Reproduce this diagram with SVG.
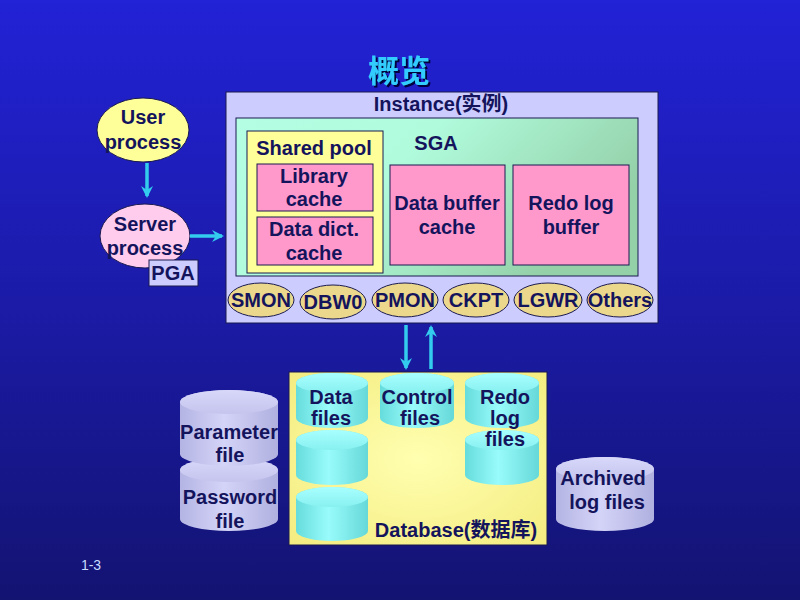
<svg xmlns="http://www.w3.org/2000/svg" width="800" height="600" viewBox="0 0 800 600">
<defs>
<linearGradient id="bg" x1="0" y1="0" x2="0" y2="1">
<stop offset="0" stop-color="#2222d6"/>
<stop offset="0.5" stop-color="#1b1ba8"/>
<stop offset="1" stop-color="#131372"/>
</linearGradient>
<linearGradient id="sga" x1="0" y1="0" x2="1" y2="0.4">
<stop offset="0" stop-color="#b4ffe4"/>
<stop offset="0.45" stop-color="#b0fbdc"/>
<stop offset="1" stop-color="#94d0a8"/>
</linearGradient>
<radialGradient id="db" cx="0.5" cy="0.5" r="0.7">
<stop offset="0" stop-color="#ffffb0"/>
<stop offset="1" stop-color="#f4ec80"/>
</radialGradient>
<linearGradient id="lav" x1="0" y1="0" x2="1" y2="0">
<stop offset="0" stop-color="#b4b4e4"/>
<stop offset="0.45" stop-color="#d4d4f8"/>
<stop offset="1" stop-color="#b0b0e0"/>
</linearGradient>
<linearGradient id="lavTop" x1="0" y1="0" x2="0" y2="1">
<stop offset="0" stop-color="#d8d8fa"/>
<stop offset="1" stop-color="#c4c4ee"/>
</linearGradient>
<linearGradient id="cyan" x1="0" y1="0" x2="1" y2="0">
<stop offset="0" stop-color="#66dcdc"/>
<stop offset="0.45" stop-color="#99fbfb"/>
<stop offset="1" stop-color="#66d8d8"/>
</linearGradient>
<linearGradient id="cyanTop" x1="0" y1="0" x2="0" y2="1">
<stop offset="0" stop-color="#a8ffff"/>
<stop offset="1" stop-color="#88f0f0"/>
</linearGradient>
<filter id="shadow" x="-20%" y="-20%" width="140%" height="140%">
<feDropShadow dx="2" dy="2" stdDeviation="0.5" flood-color="#000040" flood-opacity="1"/>
</filter>
<marker id="ah" viewBox="0 0 12 12" refX="10" refY="6" markerWidth="12" markerHeight="12" markerUnits="userSpaceOnUse" orient="auto">
<path d="M0,0 L12,6 L0,12 L4,6 Z" fill="#33ccee"/>
</marker>
</defs>
<style>
text{font-family:"Liberation Sans",Arial,"Noto Sans CJK SC",sans-serif;font-weight:bold;font-size:20px;fill:#14145c;text-anchor:middle}
.box{stroke:#1a1a50;stroke-width:1}
.pink{fill:#ff99cc;stroke:#1a1a50;stroke-width:1}
.proc{fill:#ecd88c;stroke:#1a1a50;stroke-width:1}
.conn{stroke:#33ccee;stroke-width:3.5;fill:none;marker-end:url(#ah)}
.lavcyl{fill:url(#lav)}
.lavtop{fill:url(#lavTop)}
.cyc{fill:url(#cyan)}
.cyt{fill:url(#cyanTop)}
</style>
<rect width="800" height="600" fill="url(#bg)"/>

<text x="399" y="82" filter="url(#shadow)" style="font-family:'Noto Sans CJK SC',sans-serif;font-size:31px;fill:#33ccff">概览</text>

<g id="instance">
<rect x="226" y="92" width="432" height="231" fill="#ccccff" class="box"/>
<text x="441" y="111">Instance(实例)</text>
</g>
<g id="sga">
<rect x="236" y="118" width="402" height="158" fill="url(#sga)" class="box"/>
<text x="436" y="150">SGA</text>
</g>
<g id="shared-pool">
<rect x="247" y="131" width="136" height="142" fill="#ffff99" class="box"/>
<text x="314" y="155">Shared pool</text>
</g>
<g id="library-cache">
<rect x="257" y="164" width="116" height="47" class="pink"/>
<text x="314" y="183">Library</text>
<text x="314" y="206">cache</text>
</g>
<g id="data-dict-cache">
<rect x="257" y="217" width="116" height="48" class="pink"/>
<text x="314" y="236">Data dict.</text>
<text x="314" y="260">cache</text>
</g>
<g id="data-buffer-cache">
<rect x="390" y="165" width="115" height="100" class="pink"/>
<text x="447" y="210">Data buffer</text>
<text x="447" y="234">cache</text>
</g>
<g id="redo-log-buffer">
<rect x="513" y="165" width="116" height="100" class="pink"/>
<text x="571" y="210">Redo log</text>
<text x="571" y="234">buffer</text>
</g>

<g id="smon"><ellipse cx="261" cy="300" rx="33" ry="17" class="proc"/><text x="261" y="307">SMON</text></g>
<g id="dbw0"><ellipse cx="333" cy="302" rx="33" ry="17" class="proc"/><text x="333" y="309">DBW0</text></g>
<g id="pmon"><ellipse cx="405" cy="300" rx="33" ry="17" class="proc"/><text x="405" y="307">PMON</text></g>
<g id="ckpt"><ellipse cx="476" cy="300" rx="33" ry="17" class="proc"/><text x="476" y="307">CKPT</text></g>
<g id="lgwr"><ellipse cx="548" cy="300" rx="34" ry="17" class="proc"/><text x="548" y="307">LGWR</text></g>
<g id="others"><ellipse cx="620" cy="300" rx="33" ry="17" class="proc"/><text x="620" y="307">Others</text></g>

<g id="user-process">
<ellipse cx="143" cy="130" rx="46" ry="32" fill="#ffff99" class="box"/>
<text x="143" y="124">User</text>
<text x="143" y="149">process</text>
</g>
<g id="server-process">
<ellipse cx="145" cy="236" rx="45" ry="32" fill="#ffccee" class="box"/>
<text x="145" y="231">Server</text>
<text x="145" y="255">process</text>
</g>
<g id="pga">
<rect x="149" y="260" width="49" height="26" fill="#ccccff" class="box"/>
<text x="173" y="280">PGA</text>
</g>

<g id="database">
<rect x="289" y="372" width="258" height="173" fill="url(#db)" class="box"/>
<text x="456" y="537">Database(数据库)</text>
</g>

<g id="data-files">
<path d="M296,497 A36,10 0 0 1 368,497 V531 A36,10 0 0 1 296,531 Z" class="cyc"/>
<ellipse cx="332" cy="497" rx="36" ry="10" class="cyt"/>
<path d="M296,440 A36,10 0 0 1 368,440 V475 A36,10 0 0 1 296,475 Z" class="cyc"/>
<ellipse cx="332" cy="440" rx="36" ry="10" class="cyt"/>
<path d="M296,383 A36,10 0 0 1 368,383 V418 A36,10 0 0 1 296,418 Z" class="cyc"/>
<ellipse cx="332" cy="383" rx="36" ry="10" class="cyt"/>
<text x="331" y="404">Data</text>
<text x="331" y="425">files</text>
</g>
<g id="control-files">
<path d="M380,383 A37,10 0 0 1 454,383 V418 A37,10 0 0 1 380,418 Z" class="cyc"/>
<ellipse cx="417" cy="383" rx="37" ry="10" class="cyt"/>
<text x="417" y="404">Control</text>
<text x="420" y="425">files</text>
</g>
<g id="redo-log-files">
<path d="M465,383 A37,10 0 0 1 539,383 V418 A37,10 0 0 1 465,418 Z" class="cyc"/>
<ellipse cx="502" cy="383" rx="37" ry="10" class="cyt"/>
<path d="M465,440 A37,10 0 0 1 539,440 V475 A37,10 0 0 1 465,475 Z" class="cyc"/>
<ellipse cx="502" cy="440" rx="37" ry="10" class="cyt"/>
<text x="505" y="404">Redo</text>
<text x="505" y="425">log</text>
<text x="505" y="446">files</text>
</g>

<g id="password-file">
<path d="M180,470 A49,12 0 0 1 278,470 V519 A49,12 0 0 1 180,519 Z" class="lavcyl"/>
<ellipse cx="229" cy="470" rx="49" ry="12" class="lavtop"/>
<text x="230" y="504">Password</text>
<text x="230" y="528">file</text>
</g>
<g id="parameter-file">
<path d="M180,402 A49,12 0 0 1 278,402 V454 A49,12 0 0 1 180,454 Z" class="lavcyl"/>
<ellipse cx="229" cy="402" rx="49" ry="12" class="lavtop"/>
<text x="229" y="439">Parameter</text>
<text x="230" y="462">file</text>
</g>
<g id="archived-log-files">
<path d="M556,469 A49,12 0 0 1 654,469 V519 A49,12 0 0 1 556,519 Z" class="lavcyl"/>
<ellipse cx="605" cy="469" rx="49" ry="12" class="lavtop"/>
<text x="603" y="485">Archived</text>
<text x="607" y="509">log files</text>
</g>

<g id="connectors">
<line x1="147" y1="163" x2="147" y2="196" class="conn"/>
<line x1="190" y1="236" x2="222" y2="236" class="conn"/>
<line x1="406" y1="325" x2="406" y2="368" class="conn"/>
<line x1="431" y1="369" x2="431" y2="327" class="conn"/>
</g>

<text x="91" y="570" style="font-weight:normal;font-size:14px;fill:#c8dcff">1-3</text>
</svg>
